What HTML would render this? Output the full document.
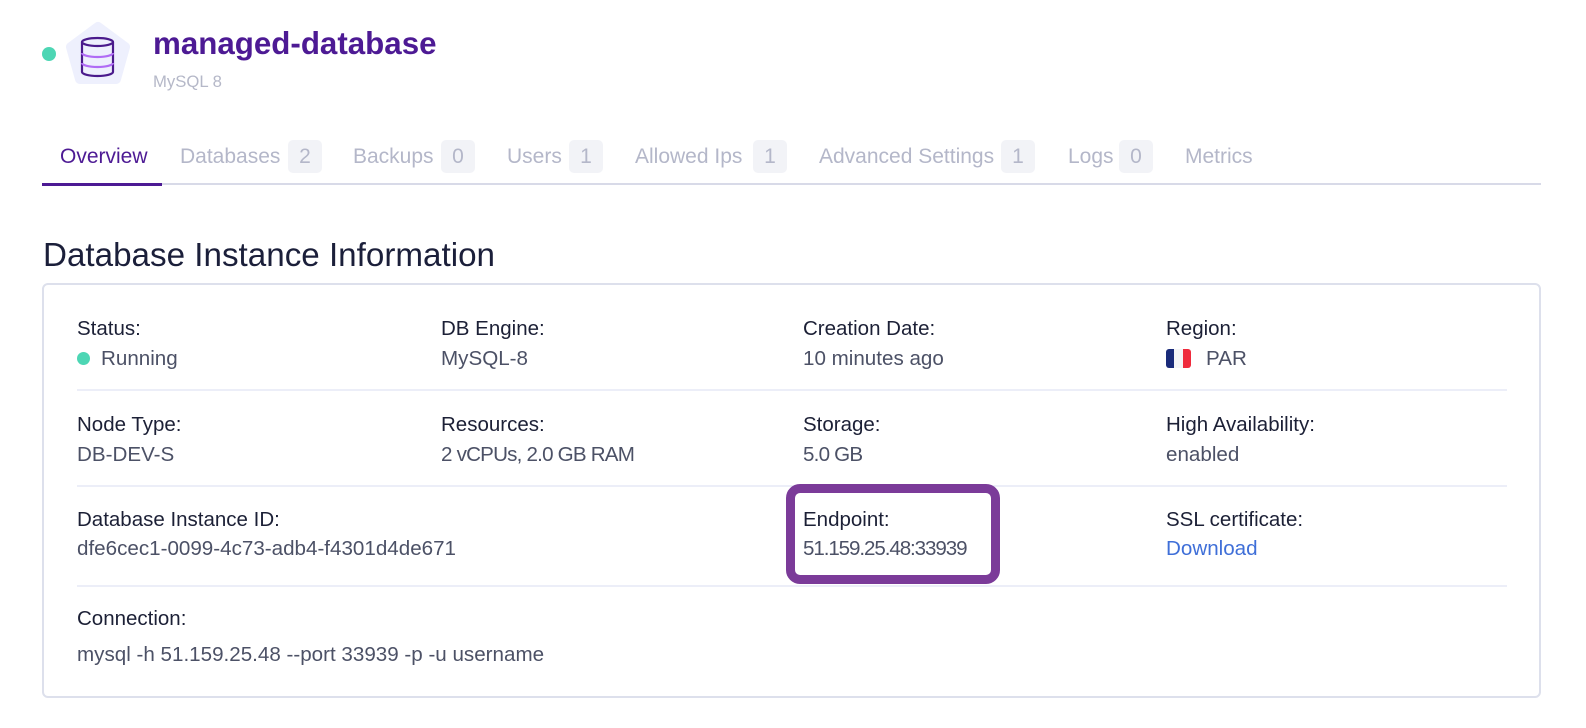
<!DOCTYPE html>
<html>
<head>
<meta charset="utf-8">
<style>
  html,body{margin:0;padding:0;background:#fff;}
  body{width:1586px;height:728px;position:relative;overflow:hidden;font-family:"Liberation Sans",sans-serif;}
  .a{position:absolute;white-space:nowrap;}
  .tab{position:absolute;top:145px;font-size:21px;line-height:24px;color:#b4b7c9;white-space:nowrap;}
  .badge{position:absolute;top:140px;height:33px;width:34px;border-radius:5px;background:#f2f3f7;color:#b4b7c9;font-size:21px;line-height:33px;text-align:center;}
  .lbl{position:absolute;font-size:20.5px;line-height:24px;color:#1c2036;white-space:nowrap;}
  .val{position:absolute;font-size:20.6px;line-height:24px;color:#4c5166;white-space:nowrap;}
  .sep{position:absolute;left:77px;width:1430px;height:2px;background:#eceef8;}
</style>
</head>
<body>
  <!-- header -->
  <div class="a" style="left:42px;top:47px;width:14px;height:14px;border-radius:50%;background:#4dd6b4;"></div>
  <svg class="a" style="left:60px;top:16px" width="76" height="76" viewBox="0 0 76 76">
    <polygon points="38,11 65,31 56,63 20,63 11,31" fill="#eef0fd" stroke="#eef0fd" stroke-width="10" stroke-linejoin="round"/>
    <path d="M22,26 L22,56 A15.5,4 0 0 0 53,56 L53,26" fill="none" stroke="#4a1a8c" stroke-width="2.2"/>
    <ellipse cx="37.5" cy="26" rx="15.5" ry="4" fill="none" stroke="#4a1a8c" stroke-width="2.2"/>
    <path d="M22,37 A15.5,4 0 0 0 53,37" fill="none" stroke="#b06cf5" stroke-width="2.2"/>
    <path d="M22,47 A15.5,4 0 0 0 53,47" fill="none" stroke="#b06cf5" stroke-width="2.2"/>
  </svg>
  <div class="a" style="left:153px;top:24px;font-size:31.3px;line-height:40px;font-weight:bold;color:#4d1a94;">managed-database</div>
  <div class="a" style="left:153px;top:72px;font-size:16.7px;line-height:20px;color:#b5b8c8;">MySQL 8</div>

  <!-- tabs -->
  <div class="tab" style="left:60px;color:#4d1a94;">Overview</div>
  <div class="tab" style="left:180px;">Databases</div>
  <div class="badge" style="left:288px;">2</div>
  <div class="tab" style="left:353px;">Backups</div>
  <div class="badge" style="left:441px;">0</div>
  <div class="tab" style="left:507px;">Users</div>
  <div class="badge" style="left:569px;">1</div>
  <div class="tab" style="left:635px;">Allowed Ips</div>
  <div class="badge" style="left:753px;">1</div>
  <div class="tab" style="left:819px;">Advanced Settings</div>
  <div class="badge" style="left:1001px;">1</div>
  <div class="tab" style="left:1068px;">Logs</div>
  <div class="badge" style="left:1119px;">0</div>
  <div class="tab" style="left:1185px;">Metrics</div>
  <div class="a" style="left:42px;top:183px;width:1499px;height:2px;background:#d8dae8;"></div>
  <div class="a" style="left:42px;top:183px;width:120px;height:3px;background:#4d1a94;"></div>

  <!-- heading -->
  <div class="a" style="left:43px;top:236px;font-size:33.2px;line-height:40px;color:#1b1f3a;">Database Instance Information</div>

  <!-- card -->
  <div class="a" style="left:42px;top:283px;width:1499px;height:415px;box-sizing:border-box;border:2px solid #dde0ec;border-radius:6px;"></div>

  <!-- row 1 -->
  <div class="lbl" style="left:77px;top:317px;">Status:</div>
  <div class="a" style="left:77px;top:352px;width:13px;height:13px;border-radius:50%;background:#4dd6b4;"></div>
  <div class="val" style="left:101px;top:347px;">Running</div>
  <div class="lbl" style="left:441px;top:317px;">DB Engine:</div>
  <div class="val" style="left:441px;top:347px;">MySQL-8</div>
  <div class="lbl" style="left:803px;top:317px;">Creation Date:</div>
  <div class="val" style="left:803px;top:347px;">10 minutes ago</div>
  <div class="lbl" style="left:1166px;top:317px;">Region:</div>
  <div class="a" style="left:1166px;top:349px;width:25px;height:19px;border-radius:3px;overflow:hidden;display:flex;">
    <div style="flex:1;background:#1a2b7a;"></div><div style="flex:1;background:#f4f4f6;"></div><div style="flex:1;background:#ef2a3c;"></div>
  </div>
  <div class="val" style="left:1206px;top:347px;">PAR</div>
  <div class="sep" style="top:389px;"></div>

  <!-- row 2 -->
  <div class="lbl" style="left:77px;top:413px;">Node Type:</div>
  <div class="val" style="left:77px;top:443px;">DB-DEV-S</div>
  <div class="lbl" style="left:441px;top:413px;">Resources:</div>
  <div class="val" style="left:441px;top:443px;letter-spacing:-0.8px;">2 vCPUs, 2.0 GB RAM</div>
  <div class="lbl" style="left:803px;top:413px;">Storage:</div>
  <div class="val" style="left:803px;top:443px;letter-spacing:-0.8px;">5.0 GB</div>
  <div class="lbl" style="left:1166px;top:413px;">High Availability:</div>
  <div class="val" style="left:1166px;top:443px;">enabled</div>
  <div class="sep" style="top:485px;"></div>

  <!-- row 3 -->
  <div class="lbl" style="left:77px;top:508px;">Database Instance ID:</div>
  <div class="val" style="left:77px;top:537px;">dfe6cec1-0099-4c73-adb4-f4301d4de671</div>
  <div class="a" style="left:786px;top:484px;width:214px;height:100px;box-sizing:border-box;border:9.5px solid #7b3b99;border-radius:14px;background:#fff;"></div>
  <div class="lbl" style="left:803px;top:508px;">Endpoint:</div>
  <div class="val" style="left:803px;top:537px;letter-spacing:-1.1px;">51.159.25.48:33939</div>
  <div class="lbl" style="left:1166px;top:508px;">SSL certificate:</div>
  <div class="val" style="left:1166px;top:537px;color:#3f6fd8;">Download</div>
  <div class="sep" style="top:585px;"></div>

  <!-- row 4 -->
  <div class="lbl" style="left:77px;top:607px;">Connection:</div>
  <div class="val" style="left:77px;top:643px;">mysql -h 51.159.25.48 --port 33939 -p -u username</div>
</body>
</html>
